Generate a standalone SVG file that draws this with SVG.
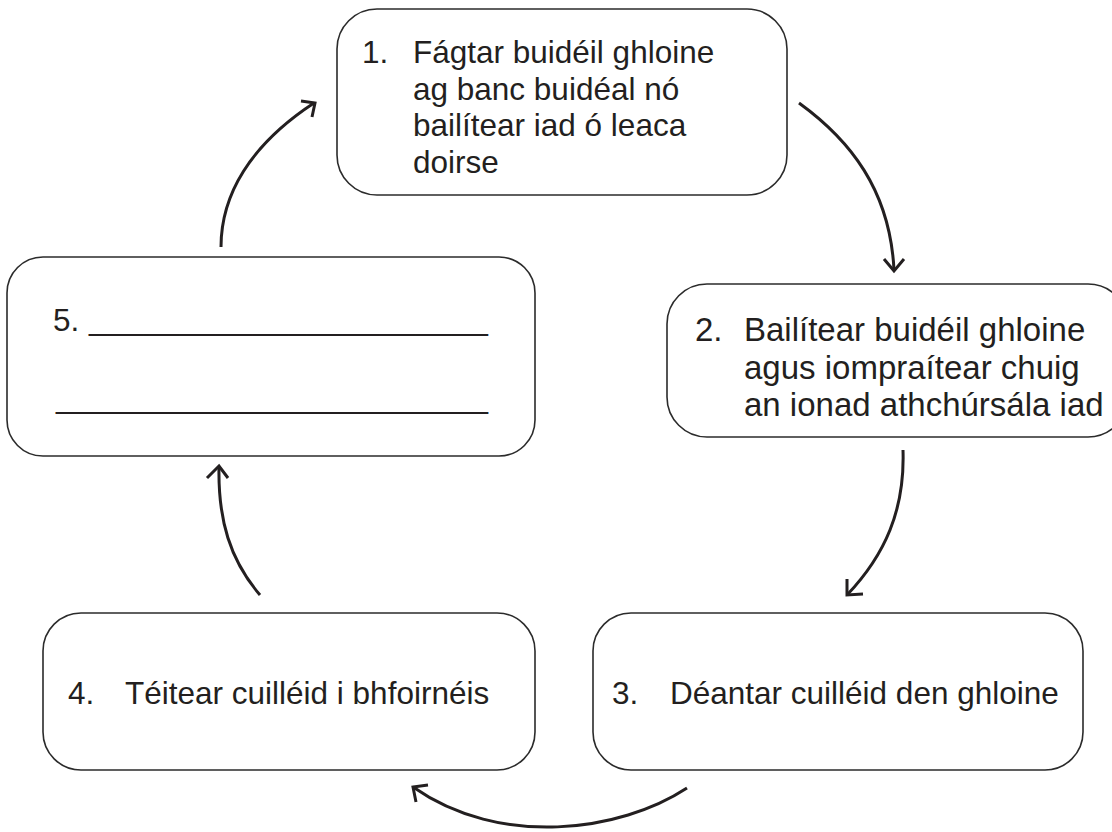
<svg xmlns="http://www.w3.org/2000/svg" width="1112" height="832" viewBox="0 0 1112 832">
<style>
.box{fill:#fff;stroke:#2b2b2b;stroke-width:1.6}
.t{font-family:"Liberation Sans",Arial,sans-serif;font-size:31.5px;fill:#231f20}
.t2{font-size:33px}
.arr{fill:none;stroke:#231f20;stroke-width:3;stroke-linecap:butt;stroke-linejoin:miter}
</style>
<rect width="1112" height="832" fill="#fff"/>
<g id="node1">
<rect class="box" x="337" y="9" width="450" height="186" rx="40"/>
<text class="t" x="362" y="63">1.</text>
<text class="t" x="413" y="63">Fágtar buidéil ghloine</text>
<text class="t" x="413" y="100">ag banc buidéal nó</text>
<text class="t" x="413" y="136">bailítear iad ó leaca</text>
<text class="t" x="413" y="173">doirse</text>
</g>
<g id="node2">
<rect class="box" x="667" y="284" width="461" height="153" rx="40"/>
<text class="t t2" x="695" y="341">2.</text>
<text class="t t2" x="744" y="341">Bailítear buidéil ghloine</text>
<text class="t t2" x="744" y="379">agus iompraítear chuig</text>
<text class="t t2" x="744" y="416">an ionad athchúrsála iad</text>
</g>
<g id="node3">
<rect class="box" x="593" y="613" width="490" height="157" rx="38"/>
<text class="t" x="612" y="704">3.</text>
<text class="t" x="670" y="704">Déantar cuilléid den ghloine</text>
</g>
<g id="node4">
<rect class="box" x="43" y="613" width="492" height="157" rx="38"/>
<text class="t" x="68" y="704">4.</text>
<text class="t" x="125" y="704">Téitear cuilléid i bhfoirnéis</text>
</g>
<g id="node5">
<rect class="box" x="7" y="257" width="528" height="199" rx="36"/>
<text class="t" x="53" y="331">5.</text>
<text class="t" x="89" y="330" textLength="399" lengthAdjust="spacingAndGlyphs">______________________</text>
<text class="t" x="56" y="408" textLength="432" lengthAdjust="spacingAndGlyphs">________________________</text>
</g>
<g id="connectors">
<path class="arr" d="M221,247 C221,195 250,145 314,103"/>
<path class="arr" d="M301,101 L315,103 L312,117"/>
<path class="arr" d="M799,103 C850,140 890,190 894,270"/>
<path class="arr" d="M884,259 L894,271 L904,259"/>
<path class="arr" d="M903,450 C905,510 885,555 847,595"/>
<path class="arr" d="M847,579 L847,595 L863,594"/>
<path class="arr" d="M687,788 C620,832 500,848 413,787"/>
<path class="arr" d="M428,785 L413,787 L416,802"/>
<path class="arr" d="M260,595 C230,560 218,520 219,467"/>
<path class="arr" d="M207,478 L219,466 L228,478"/>
</g>
</svg>
